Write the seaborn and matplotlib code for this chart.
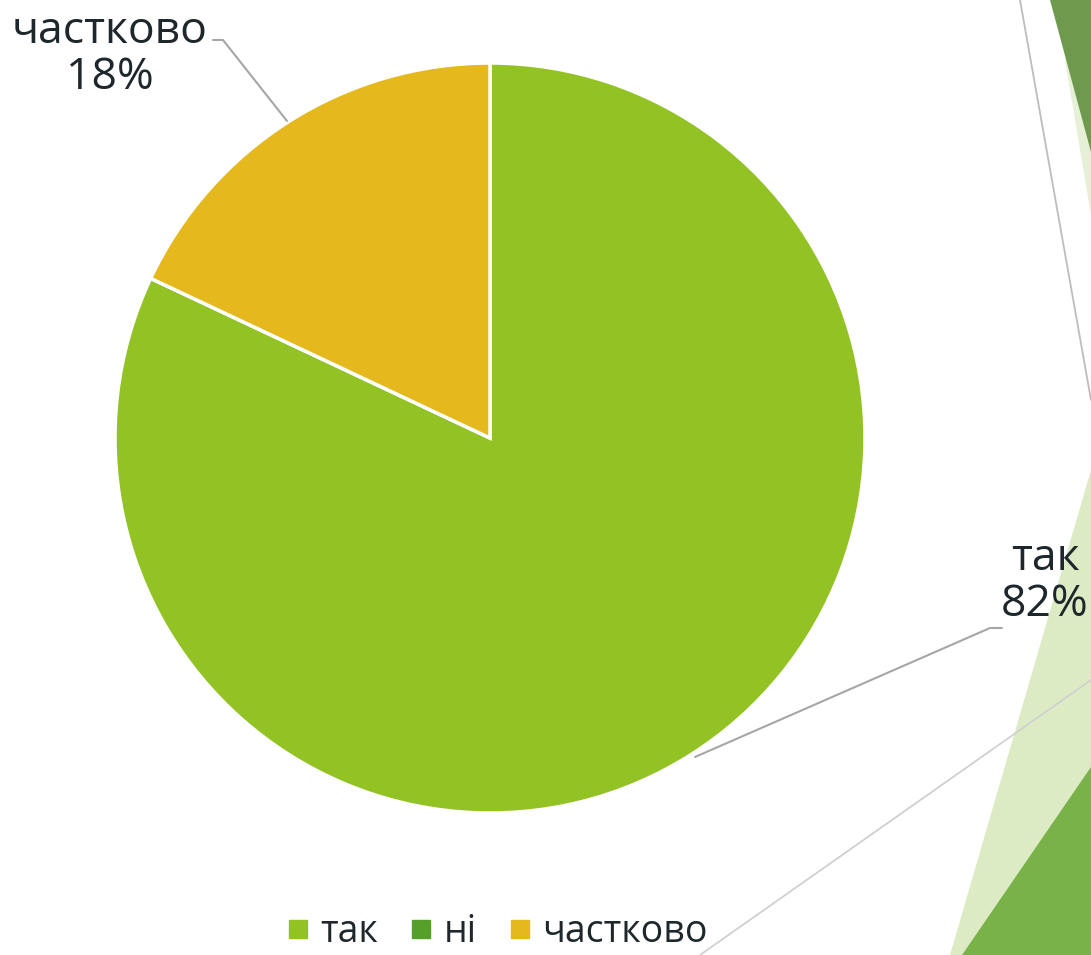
import matplotlib
matplotlib.use("Agg")
import matplotlib.pyplot as plt
from matplotlib.patches import Polygon
from matplotlib.lines import Line2D
import seaborn as sns

categories = ["так", "ні", "частково"]
values = [82, 0, 18]
pct_labels = ["82%", "0%", "18%"]
colors = ["#93C225", "#55A02B", "#E5B81E"]

sns.set_theme(style="white")
plt.rcParams["font.family"] = ["Open Sans", "DejaVu Sans"]

W, H = 1091, 955
fig = plt.figure(figsize=(W / 100, H / 100), dpi=100)
ax = fig.add_axes([0, 0, 1, 1])

def P(x, y):
    return (x, H - y)

# decorative background shapes (slide theme)
for pts, col in [
    ([(1065, 60), (1091, 60), (1091, 215)], "#E6F0D6"),
    ([(1050, 0), (1091, 0), (1091, 152)], "#6F9A4E"),
    ([(1091, 470), (1091, 955), (950, 955)], "#DDEBC5"),
    ([(1091, 767), (1091, 955), (962, 955)], "#7AB24A"),
]:
    ax.add_patch(Polygon([P(*p) for p in pts], closed=True, color=col, lw=0, zorder=0))

# leader lines of the off-slide label
ax.plot(*zip(P(1020, 0), P(1091, 400)), color="#BDBDBD", lw=1.3, zorder=1)
ax.plot(*zip(P(700, 955), P(1091, 680)), color="#D0D0D0", lw=1.3, zorder=1)

wedges, _ = ax.pie(values, colors=colors, startangle=90, counterclock=False,
                   center=P(490, 438), radius=375,
                   wedgeprops=dict(edgecolor="white", linewidth=2.5), frame=True)
ax.set_xlim(0, W)
ax.set_ylim(0, H)
ax.set_axis_off()
ax.set_aspect("auto")

txt_col = "#1E272C"
fs = 32
ax.text(*P(1045, 582), f"{categories[0]}\n{pct_labels[0]}", ha="center", va="center",
        fontsize=fs, color=txt_col, linespacing=1.05, zorder=5)
ax.text(*P(110, 55), f"{categories[2]}\n{pct_labels[2]}", ha="center", va="center",
        fontsize=fs, color=txt_col, linespacing=1.05, zorder=5)

lead = "#A6A6A6"
ax.plot(*zip(P(695, 757), P(990, 628), P(1002, 628)), color=lead, lw=1.5, zorder=4)
ax.plot(*zip(P(213, 40), P(223, 40), P(287, 121)), color=lead, lw=1.5, zorder=4)

handles = [Line2D([0], [0], marker="s", color="none", markerfacecolor=c,
                  markeredgecolor=c, markersize=13) for c in colors]
leg = ax.legend(handles, categories, loc="center", bbox_to_anchor=(498 / W, 1 - 932 / H),
                ncol=3, frameon=False, fontsize=27, handlelength=0.5, handletextpad=0.35,
                columnspacing=0.9, borderpad=0, labelcolor=txt_col)

fig.savefig("out.png", dpi=100, facecolor="white")
